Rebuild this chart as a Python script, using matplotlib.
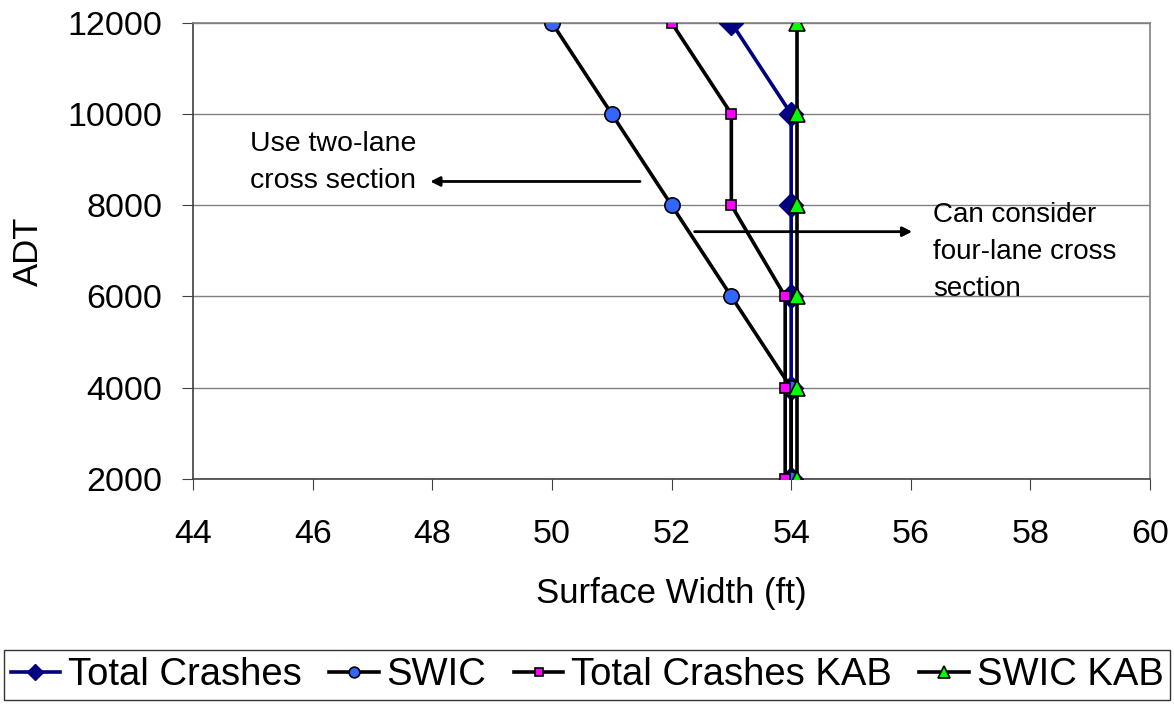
import matplotlib
matplotlib.use("Agg")
import matplotlib.pyplot as plt

plt.rcParams['font.family'] = ['Liberation Sans', 'DejaVu Sans']

adt = [12000, 10000, 8000, 6000, 4000, 2000]
total_crashes = [53, 54, 54, 54, 54, 54]
swic = [50, 51, 52, 53, 54, 54]
total_crashes_kab = [52, 53, 53, 53.9, 53.9, 53.9]
swic_kab = [54.1, 54.1, 54.1, 54.1, 54.1, 54.1]

fig = plt.figure(figsize=(11.74, 7.04), dpi=100)
ax = fig.add_axes([0.1644, 0.3196, 0.8152, 0.6482])

ax.plot(total_crashes, adt, color='#000080', lw=2.6, marker='D', ms=12,
        mfc='#000080', mec='#000080', label='Total Crashes', zorder=3)
ax.plot(swic, adt, color='black', lw=2.6, marker='o', ms=11,
        mfc='#3366FF', mec='black', mew=1.2, label='SWIC', zorder=3)
ax.plot(total_crashes_kab, adt, color='black', lw=2.6, marker='s', ms=7.5,
        mfc='#FF00FF', mec='black', mew=1.2, label='Total Crashes KAB', zorder=4)
ax.plot(swic_kab, adt, color='black', lw=2.6, marker='^', ms=12,
        mfc='#00FF00', mec='black', mew=1.2, label='SWIC KAB', zorder=5)

ax.set_xlim(44, 60)
ax.set_ylim(2000, 12000)
ax.set_xticks(range(44, 61, 2))
ax.set_yticks(range(2000, 12001, 2000))
ax.grid(axis='y', color='#808080', lw=1)
ax.set_axisbelow(True)
for s in ax.spines.values():
    s.set_color('#808080')
    s.set_linewidth(1.2)
ax.spines['left'].set_color('#404040')
ax.spines['bottom'].set_color('#404040')
ax.tick_params(labelsize=24.5, length=8, color='#404040')
ax.tick_params(axis='y', pad=14)
ax.tick_params(axis='x', pad=21)
ax.set_xlabel('Surface Width (ft)', fontsize=25, labelpad=19)
ax.set_ylabel('ADT', fontsize=25, labelpad=16)

ax.text(44.95, 9620, 'Use two-lane\ncross section', fontsize=20.5,
        va='top', ha='left', linespacing=1.55)
ax.annotate('', xy=(47.92, 8520), xytext=(51.52, 8520),
            arrowprops=dict(arrowstyle='-|>', color='black', lw=2, mutation_scale=14))
ax.text(56.37, 8060, 'Can consider\nfour-lane cross\nsection', fontsize=20,
        va='top', ha='left', linespacing=1.55)
ax.annotate('', xy=(56.07, 7420), xytext=(52.34, 7420),
            arrowprops=dict(arrowstyle='-|>', color='black', lw=2, mutation_scale=14))

leg = fig.legend(loc='center', bbox_to_anchor=(0.5, 0.041), ncol=4,
                 fontsize=27.5, frameon=True, fancybox=False, markerscale=0.7,
                 handlelength=1.3, handletextpad=0.2, columnspacing=0.72,
                 borderpad=0.18, borderaxespad=0)
leg.get_frame().set_edgecolor('black')
leg.get_frame().set_linewidth(1)

fig.savefig('out.png', dpi=100)
